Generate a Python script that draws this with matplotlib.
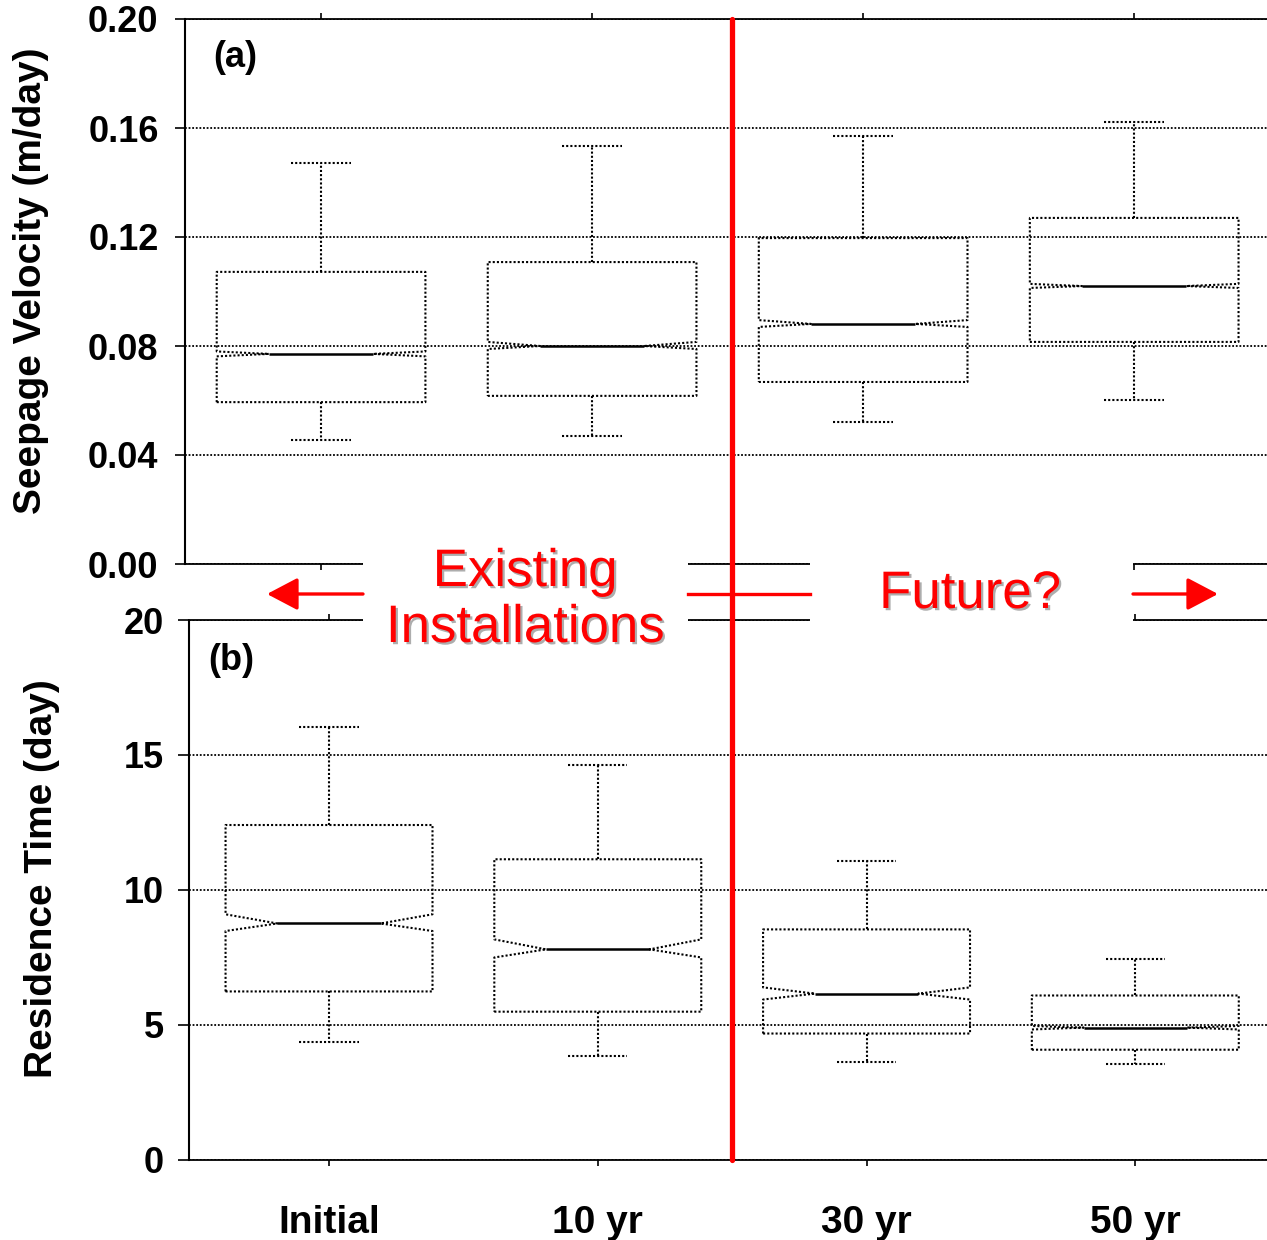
import matplotlib
matplotlib.use('Agg')
import matplotlib.pyplot as plt
import matplotlib.patheffects as pe
from matplotlib.lines import Line2D
from matplotlib.patches import Rectangle, FancyArrowPatch

plt.rcParams['font.family'] = ['Liberation Sans', 'DejaVu Sans']

categories = ['Initial', '10 yr', '30 yr', '50 yr']

# (a) seepage velocity, m/day
vel_whislo = [0.0455, 0.0470, 0.0521, 0.0602]
vel_q1 = [0.0594, 0.0617, 0.0668, 0.0815]
vel_med = [0.0771, 0.0800, 0.0881, 0.1020]
vel_q3 = [0.1072, 0.1108, 0.1196, 0.1270]
vel_whishi = [0.1472, 0.1534, 0.1571, 0.1622]
vel_cilo = [0.0762, 0.0789, 0.0870, 0.1013]
vel_cihi = [0.0780, 0.0815, 0.0895, 0.1028]

# (b) residence time, day
res_whislo = [4.37, 3.85, 3.62, 3.55]
res_q1 = [6.23, 5.48, 4.67, 4.07]
res_med = [8.75, 7.79, 6.15, 4.89]
res_q3 = [12.40, 11.13, 8.53, 6.08]
res_whishi = [16.04, 14.63, 11.06, 7.42]
res_cilo = [8.47, 7.49, 5.93, 4.82]
res_cihi = [9.09, 8.16, 6.38, 4.95]

vel_ticks = [0.00, 0.04, 0.08, 0.12, 0.16, 0.20]
res_ticks = [0, 5, 10, 15, 20]


def make_stats(lo, q1, med, q3, hi, cilo, cihi):
  return [dict(whislo=a, q1=b, med=c, q3=d, whishi=e, cilo=f, cihi=g, fliers=[])
          for a, b, c, d, e, f, g in zip(lo, q1, med, q3, hi, cilo, cihi)]


dot = (0, (1, 1))
W, H = 1267, 1240
fig = plt.figure(figsize=(W / 100, H / 100), dpi=100)

ax1 = fig.add_axes([185 / W, 1 - 564 / H, 1 - 185 / W, (564 - 19) / H])
ax2 = fig.add_axes([189 / W, 1 - 1159.5 / H, 1 - 189 / W, (1159.5 - 620) / H])

pos = [1, 2, 3, 4]
box_kw = dict(
  positions=pos, widths=0.77, capwidths=0.22, shownotches=True, showfliers=False,
  boxprops=dict(color='black', linestyle=dot, linewidth=1.5),
  whiskerprops=dict(color='black', linestyle=dot, linewidth=1.5),
  capprops=dict(color='black', linestyle=dot, linewidth=1.5),
  medianprops=dict(color='black', linestyle='-', linewidth=1.8),
)

ax1.bxp(make_stats(vel_whislo, vel_q1, vel_med, vel_q3, vel_whishi, vel_cilo, vel_cihi), **box_kw)
ax2.bxp(make_stats(res_whislo, res_q1, res_med, res_q3, res_whishi, res_cilo, res_cihi), **box_kw)

ax1.set_xlim(0.498, 4.49)
ax1.set_ylim(0, 0.20)
ax2.set_xlim(0.479, 4.49)
ax2.set_ylim(0, 20)

ax1.set_yticks(vel_ticks)
ax1.set_yticklabels(['%.2f' % v for v in vel_ticks])
ax2.set_yticks(res_ticks)
ax2.set_yticklabels([str(v) for v in res_ticks])

for ax in (ax1, ax2):
  ax.set_xticks(pos)
  ax.grid(axis='y', color='black', linestyle=dot, linewidth=1.3)
  ax.set_axisbelow(True)
  ax.spines['right'].set_visible(False)
  for s in ('top', 'bottom'):
    ax.spines[s].set_linestyle(dot)
    ax.spines[s].set_linewidth(1.3)
  ax.tick_params(axis='x', top=True, length=4, width=1.2)

ax1.spines['left'].set_linewidth(1.5)
ax2.spines['left'].set_linestyle(dot)
ax2.spines['left'].set_linewidth(1.5)

ax1.tick_params(axis='x', labelbottom=False)
ax1.tick_params(axis='y', length=7, width=1.2, pad=12, labelsize=26)
for t in ax1.get_yticklabels():
  t.set_fontweight('bold')
ax2.tick_params(axis='y', length=8, width=1.2, pad=10, labelsize=26)
for t in ax2.get_yticklabels():
  t.set_fontweight('bold')
ax2.set_xticklabels(categories, fontsize=28, fontweight='bold')
ax2.tick_params(axis='x', pad=29)

ax1.text(0.026, 0.93, '(a)', transform=ax1.transAxes, fontsize=26, fontweight='bold', va='center')
ax2.text(0.018, 0.925, '(b)', transform=ax2.transAxes, fontsize=26, fontweight='bold', va='center')

fig.text(31 / W, 1 - 281 / H, 'Seepage Velocity (m/day)', rotation=90, ha='center', va='center',
         fontsize=28, fontweight='bold')
fig.text(42 / W, 1 - 879 / H, 'Residence Time (day)', rotation=90, ha='center', va='center',
         fontsize=28, fontweight='bold')

# white gaps behind the annotation text
for x0, x1 in [(363, 688), (810, 1133)]:
  fig.add_artist(Rectangle((x0 / W, 1 - 628 / H), (x1 - x0) / W, 70 / H,
                           transform=fig.transFigure, facecolor='white', edgecolor='none', zorder=5))

shadow = [pe.withSimplePatchShadow(offset=(1.6, -1.6), shadow_rgbFace='#999999', alpha=0.8)]
txt_kw = dict(color='red', fontsize=38, ha='center', va='baseline', zorder=6, path_effects=shadow)
fig.text(525 / W, 1 - 586 / H, 'Existing', **txt_kw)
fig.text(525 / W, 1 - 642 / H, 'Installations', **txt_kw)
fig.text(970 / W, 1 - 608 / H, 'Future?', **txt_kw)

ya = 1 - 594 / H
arrow_kw = dict(transform=fig.transFigure, arrowstyle='-|>,head_length=19,head_width=10',
                color='red', lw=2.4, shrinkA=0, shrinkB=0, mutation_scale=1, zorder=7)
fig.add_artist(FancyArrowPatch((363 / W, ya), (267 / W, ya), **arrow_kw))
fig.add_artist(FancyArrowPatch((1133 / W, ya), (1218 / W, ya), **arrow_kw))
fig.add_artist(Line2D([688 / W, 810 / W], [ya, ya], transform=fig.transFigure,
                      color='red', lw=2.4, zorder=7))

fig.add_artist(Line2D([732 / W, 732 / W], [1 - 19 / H, 1 - 1160 / H], transform=fig.transFigure,
                      color='red', lw=3.8, solid_capstyle='round', zorder=8))

fig.savefig('out.png', dpi=100)
